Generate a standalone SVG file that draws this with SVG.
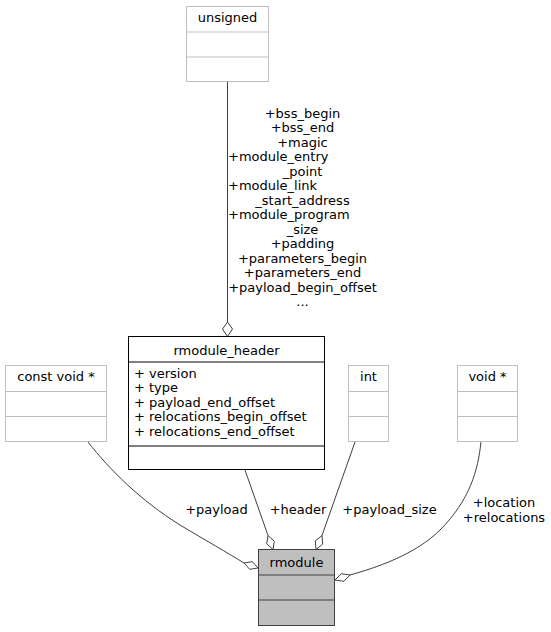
<svg xmlns="http://www.w3.org/2000/svg" width="551" height="632" viewBox="0 0 551 632">
<style>
text{font-family:"DejaVu Sans",sans-serif;font-size:13px;fill:#000}
.c{text-anchor:middle}
.gbox{fill:#fff;stroke:#bfbfbf;stroke-width:1}
.bbox{fill:#fff;stroke:#000;stroke-width:1}
.rbox{fill:#bfbfbf;stroke:#404040;stroke-width:1}
.e{fill:none;stroke:#404040;stroke-width:1}
.d{fill:#fff;stroke:#404040;stroke-width:1}
</style>
<rect width="551" height="632" fill="#fff"/>
<g id="connectors">
<path class="e" d="M227.5,82 L227.5,322"/>
<polygon class="d" points="227.5,322 232.5,329 227.5,336.5 222.5,329"/>
<path class="e" d="M88,442 C110,470 140,500 180,525 C205,540 228,553 244,563"/>
<polygon class="d" points="244,563 252.3,561.7 258,568 249.7,569.3"/>
<path class="e" d="M245,470 L268,535.5"/>
<polygon class="d" points="268,535.5 274.3,541.2 273,549.5 266.7,543.8"/>
<path class="e" d="M355,442 L322,535.5"/>
<polygon class="d" points="322,535.5 322.7,544.1 316,549.5 315.3,540.9"/>
<path class="e" d="M481,442 C478,470 470,500 440,530 C415,555 375,568 350,575"/>
<polygon class="d" points="350,575 341.2,573.7 335,580 343.8,581.3"/>
<text class="c" x="302.5" y="117.5">+bss_begin</text>
<text class="c" x="302.5" y="132">+bss_end</text>
<text class="c" x="302.5" y="146.5">+magic</text>
<text x="228" y="161">+module_entry</text>
<text class="c" x="302.5" y="175.5">_point</text>
<text x="228" y="190">+module_link</text>
<text class="c" x="302.5" y="204.5">_start_address</text>
<text x="228" y="219">+module_program</text>
<text class="c" x="302.5" y="233.5">_size</text>
<text class="c" x="302.5" y="248">+padding</text>
<text class="c" x="302.5" y="262.5">+parameters_begin</text>
<text class="c" x="302.5" y="277">+parameters_end</text>
<text class="c" x="302.5" y="291.5">+payload_begin_offset</text>
<text class="c" x="302.5" y="306">...</text>
<text class="c" x="216.5" y="514">+payload</text>
<text class="c" x="298" y="514">+header</text>
<text class="c" x="389.5" y="514">+payload_size</text>
<text class="c" x="504" y="507">+location</text>
<text class="c" x="504" y="521.5">+relocations</text>
</g>
<g id="unsigned">
<rect class="gbox" x="186.5" y="6.5" width="82" height="75"/>
<line class="gbox" x1="186.5" y1="32" x2="268.5" y2="32"/>
<line class="gbox" x1="186.5" y1="57" x2="268.5" y2="57"/>
<text class="c" x="227.5" y="22">unsigned</text>
</g>
<g id="rmodule_header">
<rect class="bbox" x="128.5" y="336.5" width="196" height="133"/>
<line class="bbox" x1="128.5" y1="362" x2="324.5" y2="362"/>
<line class="bbox" x1="128.5" y1="446" x2="324.5" y2="446"/>
<text class="c" x="226.5" y="354.5">rmodule_header</text>
<text x="134" y="377.5">+ version</text>
<text x="134" y="392">+ type</text>
<text x="134" y="406.5">+ payload_end_offset</text>
<text x="134" y="421">+ relocations_begin_offset</text>
<text x="134" y="435.5">+ relocations_end_offset</text>
</g>
<g id="const_void_ptr">
<rect class="gbox" x="5.5" y="365.5" width="101" height="76"/>
<line class="gbox" x1="5.5" y1="391.5" x2="106.5" y2="391.5"/>
<line class="gbox" x1="5.5" y1="416.5" x2="106.5" y2="416.5"/>
<text class="c" x="56" y="381">const void *</text>
</g>
<g id="int">
<rect class="gbox" x="348.5" y="365.5" width="40" height="76"/>
<line class="gbox" x1="348.5" y1="391.5" x2="388.5" y2="391.5"/>
<line class="gbox" x1="348.5" y1="416.5" x2="388.5" y2="416.5"/>
<text class="c" x="368.5" y="381">int</text>
</g>
<g id="void_ptr">
<rect class="gbox" x="457.5" y="365.5" width="60" height="76"/>
<line class="gbox" x1="457.5" y1="391.5" x2="517.5" y2="391.5"/>
<line class="gbox" x1="457.5" y1="416.5" x2="517.5" y2="416.5"/>
<text class="c" x="487.5" y="381">void *</text>
</g>
<g id="rmodule">
<rect class="rbox" x="258.5" y="549.5" width="76" height="76"/>
<line class="rbox" x1="258.5" y1="575" x2="334.5" y2="575"/>
<line class="rbox" x1="258.5" y1="600" x2="334.5" y2="600"/>
<text class="c" x="296.5" y="567">rmodule</text>
</g>
</svg>
